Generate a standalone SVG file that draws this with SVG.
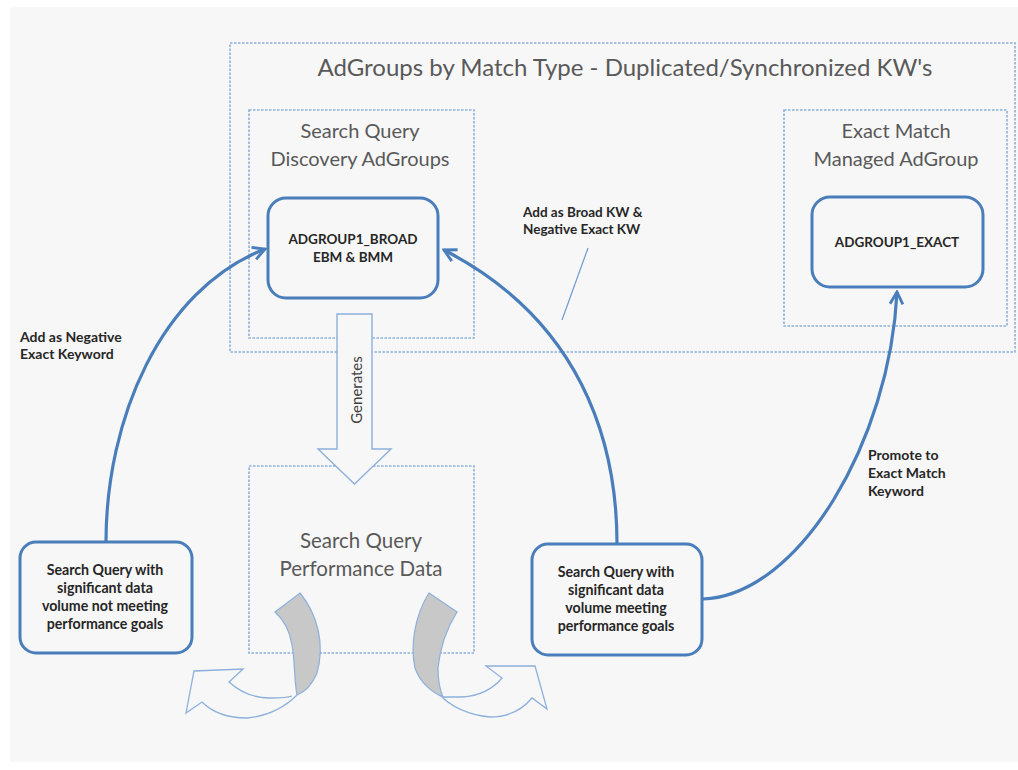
<svg xmlns="http://www.w3.org/2000/svg" width="1018" height="770" viewBox="0 0 1018 770">
<style>
.dash{fill:none;stroke:#8db0dc;stroke-width:1.6;stroke-dasharray:2.5 1.5}
.node{fill:#f7f7f7;stroke:#4a7ebb;stroke-width:3}
.head{font-family:Lato,"Liberation Sans",sans-serif;fill:#595959;text-anchor:middle}
.bold{font-family:Lato,"Liberation Sans",sans-serif;font-weight:bold;fill:#262626}
.mid{text-anchor:middle}
.conn{fill:none;stroke:#4a7ebb;stroke-width:3.2}
.thin{fill:#f7f7f7;stroke:#8db0dc;stroke-width:1.4;stroke-linejoin:miter}
</style>
<defs>
<marker id="arr" viewBox="0 0 10 10" refX="8.5" refY="5" markerWidth="5" markerHeight="5" orient="auto" markerUnits="strokeWidth">
<path d="M1,1 L8.5,5 L1,9" fill="none" stroke="#4a7ebb" stroke-width="1.8" stroke-linejoin="miter"/>
</marker>
</defs>
<rect x="0" y="0" width="1018" height="770" fill="#ffffff"/>
<rect x="10" y="7" width="1008" height="755" fill="#f7f7f7"/>

<g id="outer-group">
<rect class="dash" x="230" y="43" width="785" height="309"/>
<text class="head" x="625" y="76" font-size="24" fill="#404040">AdGroups by Match Type - Duplicated/Synchronized KW's</text>
</g>

<g id="discovery-group">
<rect class="dash" x="249" y="110" width="225" height="228"/>
<text class="head" x="360" y="138" font-size="20">Search Query</text>
<text class="head" x="360" y="166" font-size="20">Discovery AdGroups</text>
</g>

<g id="exact-group">
<rect class="dash" x="784" y="110" width="223" height="216"/>
<text class="head" x="896" y="138" font-size="20">Exact Match</text>
<text class="head" x="896" y="166" font-size="20">Managed AdGroup</text>
</g>

<g id="performance-data">
<rect class="dash" x="249" y="466" width="225" height="187"/>
<text class="head" x="361" y="548" font-size="20.5">Search Query</text>
<text class="head" x="361" y="576" font-size="20.5">Performance Data</text>
</g>

<g id="generates-arrow">
<path class="thin" d="M337,314 L372,314 L372,449 L391,449 L354.5,484 L318,449 L337,449 Z"/>
<text x="356" y="390" transform="rotate(-90 356 390)" font-family="Lato,'Liberation Sans',sans-serif" font-size="15" fill="#404040" text-anchor="middle" dominant-baseline="central">Generates</text>
</g>

<g id="adgroup-broad">
<rect class="node" x="268" y="198" width="170" height="100" rx="18"/>
<text class="bold mid" x="353" y="244" font-size="13.5">ADGROUP1_BROAD</text>
<text class="bold mid" x="353" y="262" font-size="13.5">EBM &amp; BMM</text>
</g>

<g id="adgroup-exact">
<rect class="node" x="812" y="197" width="171" height="90" rx="18"/>
<text class="bold mid" x="897" y="247" font-size="13.5">ADGROUP1_EXACT</text>
</g>

<g id="query-not-meeting">
<rect class="node" x="20" y="542" width="172" height="111" rx="16"/>
<text class="bold mid" x="105" y="575" font-size="14.2">Search Query with</text>
<text class="bold mid" x="105" y="593" font-size="14.2">significant data</text>
<text class="bold mid" x="105" y="611" font-size="14.2">volume not meeting</text>
<text class="bold mid" x="105" y="629" font-size="14.2">performance goals</text>
</g>

<g id="query-meeting">
<rect class="node" x="532" y="544" width="170" height="111" rx="16"/>
<text class="bold mid" x="616" y="577" font-size="14.2">Search Query with</text>
<text class="bold mid" x="616" y="595" font-size="14.2">significant data</text>
<text class="bold mid" x="616" y="613" font-size="14.2">volume meeting</text>
<text class="bold mid" x="616" y="631" font-size="14.2">performance goals</text>
</g>

<g id="curved-arrow-left">
<path d="M275,612 L300,593 C318,615 325,645 317,673 C312,685 305,692 297,695 C294,680 295,660 292,645 C290,632 284,620 275,612 Z" fill="#c8c8c8" stroke="#8db0dc" stroke-width="1.2"/>
<path d="M297,695 C285,707 268,716 247,718 C228,718 212,712 202,702 L186,713 L194,671 L243,669 L229,682 C240,692 255,698 270,698 C280,698 287,698 292,696" fill="#f7f7f7" stroke="#8db0dc" stroke-width="1.3"/>
</g>

<g id="curved-arrow-right">
<path d="M429,593 L457,612 C447,628 440,648 438,668 C438,680 440,690 443,697 C433,693 420,683 415,668 C410,645 415,615 429,593 Z" fill="#c8c8c8" stroke="#8db0dc" stroke-width="1.2"/>
<path d="M440,695 C450,706 468,715 490,717 C508,717 522,710 532,698 L547,709 L535,666 L486,666 L502,678 C492,690 478,696 462,697 C455,697 448,697 443,697" fill="#f7f7f7" stroke="#8db0dc" stroke-width="1.3"/>
</g>

<g id="labels">
<text class="bold" x="20" y="342" font-size="14">Add as Negative</text>
<text class="bold" x="20" y="359" font-size="14">Exact Keyword</text>
<text class="bold" x="523" y="217" font-size="13.5">Add as Broad KW &amp;</text>
<text class="bold" x="523" y="234" font-size="13.5">Negative Exact KW</text>
<text class="bold" x="868" y="460" font-size="14">Promote to</text>
<text class="bold" x="868" y="478" font-size="14">Exact Match</text>
<text class="bold" x="868" y="496" font-size="14">Keyword</text>
</g>

<g id="connectors">
<path class="conn" d="M106,542 C106,420 160,290 265,249" marker-end="url(#arr)"/>
<path class="conn" d="M617,544 C617,440 580,320 444,250" marker-end="url(#arr)"/>
<path class="conn" d="M703,599 C800,595 890,440 897,292" marker-end="url(#arr)"/>
<line x1="588" y1="248" x2="562" y2="320" stroke="#6f9bd1" stroke-width="1.2"/>
</g>
</svg>
